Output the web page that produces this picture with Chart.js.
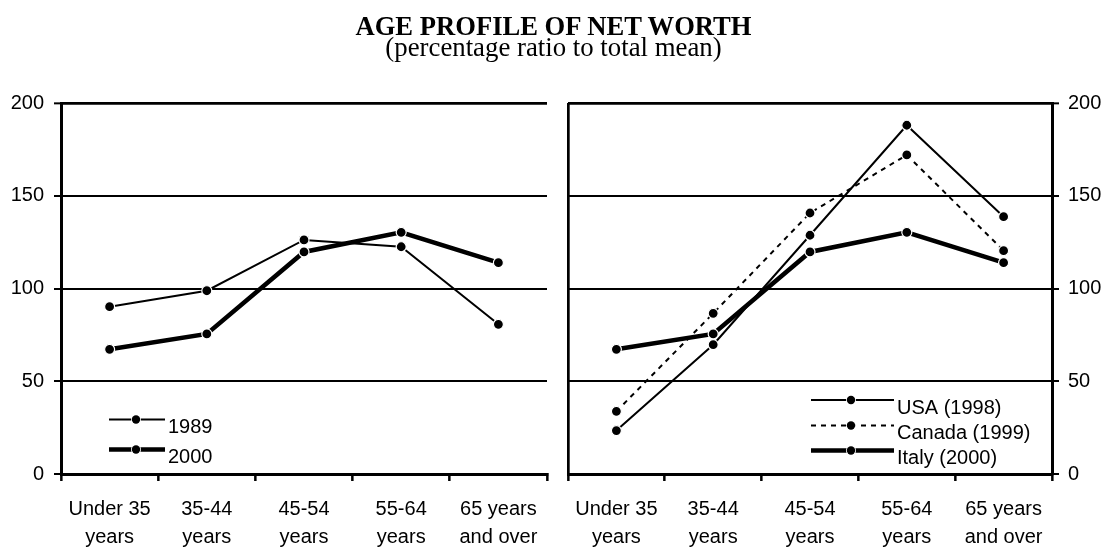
<!DOCTYPE html>
<html><head><meta charset="utf-8">
<script src="https://cdn.jsdelivr.net/npm/chart.js@4.4.0/dist/chart.umd.min.js"></script>
<style>
html,body{margin:0;padding:0;background:#fff;}
#wrap{position:relative;width:1107px;height:549px;overflow:hidden;background:#fff;}
.t1{position:absolute;left:0;width:1107px;text-align:center;font-family:"Liberation Serif","Times New Roman",serif;color:#000;white-space:nowrap;}
#title{top:11px;font-size:26.6px;line-height:30px;font-weight:bold;}
#sub{top:31.5px;font-size:26.8px;line-height:30px;}
#c1{position:absolute;left:0;top:0;}
#c2{position:absolute;left:555px;top:0;}
</style></head>
<body><div id="wrap">
<canvas id="c1" width="555" height="549"></canvas>
<canvas id="c2" width="552" height="549"></canvas>
<div class="t1" id="title">AGE PROFILE OF NET WORTH</div>
<div class="t1" id="sub">(percentage ratio to total mean)</div>
</div>
<script>
// ---- data ----
const categories = [["Under 35","years"],["35-44","years"],["45-54","years"],["55-64","years"],["65 years","and over"]];
const yMin = 0, yMax = 200, yStep = 50;
const leftLabels = ["1989", "2000"];
const italy1989 = [90.2, 98.8, 126.2, 122.5, 80.7];
const italy2000 = [67.2, 75.5, 119.7, 130.3, 113.9];
const rightLabels = ["USA (1998)", "Canada (1999)", "Italy (2000)"];
const usa1998 = [23.4, 69.7, 128.7, 188.0, 138.7];
const canada1999 = [33.8, 86.6, 140.7, 172.0, 120.4];
const italy2000r = [67.2, 75.5, 119.7, 130.3, 113.9];

const FONT = '"Liberation Sans", Arial, sans-serif';

// legend drawn inside the plot area
const insideLegend = {
  id: 'insideLegend',
  afterDatasetsDraw(chart, args, opts) {
    const ctx = chart.ctx;
    ctx.save();
    opts.rows.forEach((r, i) => {
      const ds = chart.data.datasets[i];
      const y = r;
      ctx.strokeStyle = '#000';
      ctx.lineWidth = ds.borderWidth;
      ctx.setLineDash(ds.borderDash || []);
      ctx.lineCap = 'butt';
      ctx.beginPath();
      ctx.moveTo(opts.x0, y);
      ctx.lineTo(opts.x1, y);
      ctx.stroke();
      ctx.setLineDash([]);
      ctx.beginPath();
      ctx.arc(opts.xm, y, 5, 0, Math.PI * 2);
      ctx.fillStyle = '#fff';
      ctx.fill();
      ctx.beginPath();
      ctx.arc(opts.xm, y, 4.2, 0, Math.PI * 2);
      ctx.fillStyle = '#000';
      ctx.fill();
      ctx.font = '20px ' + FONT;
      ctx.textAlign = 'left';
      ctx.textBaseline = 'alphabetic';
      ctx.fillStyle = '#000';
      ctx.fillText(ds.label, opts.x1 + 3, y + 13.5);
    });
    ctx.restore();
  }
};

function makeDataset(label, data, width, dash) {
  return {
    label, data,
    borderColor: '#000', borderWidth: width, borderDash: dash || [],
    pointRadius: 5, pointBorderWidth: 1.2, pointBackgroundColor: '#000', pointBorderColor: '#fff',
    pointHoverRadius: 5, tension: 0, fill: false
  };
}

function makeOptions(side, legendOpts) {
  const isLeft = side === 'left';
  return {
    responsive: false, animation: false, devicePixelRatio: 1,
    layout: { padding: isLeft ? { top: 103, right: 8, left: 0, bottom: 0 } : { top: 103, right: 0, left: 13, bottom: 0 } },
    plugins: { legend: { display: false }, tooltip: { enabled: false }, insideLegend: legendOpts },
    scales: {
      x: {
        type: 'category', offset: true,
        afterFit: s => { s.height = 75; },
        grid: {
          offset: true, drawOnChartArea: true, drawTicks: true, tickLength: 7,
          color: c => (isLeft ? c.index === 5 : c.index === 0) ? '#000' : 'rgba(0,0,0,0)',
          lineWidth: 2.7, tickColor: '#000', tickWidth: 2.5
        },
        border: { display: true, color: '#000', width: 3 },
        ticks: { color: '#000', font: { family: FONT, size: 20, lineHeight: 1.4 }, padding: 14, maxRotation: 0, autoSkip: false }
      },
      y: {
        position: isLeft ? 'left' : 'right', min: yMin, max: yMax,
        afterFit: s => { s.width = isLeft ? 61 : 55; },
        grid: {
          color: '#000', lineWidth: c => (c.tick && c.tick.value === yMax) ? 2.7 : 2,
          drawTicks: true, tickLength: 7, tickColor: '#000', tickWidth: 2
        },
        border: { display: true, color: '#000', width: 3 },
        ticks: { stepSize: yStep, color: '#000', font: { family: FONT, size: 20 }, padding: isLeft ? 10 : 9 }
      }
    }
  };
}

new Chart(document.getElementById('c1'), {
  type: 'line',
  data: { labels: categories, datasets: [
    makeDataset(leftLabels[0], italy1989, 2),
    makeDataset(leftLabels[1], italy2000, 4.5)
  ]},
  options: makeOptions('left', { rows: [419.5, 449.5], x0: 109, x1: 165, xm: 136 }),
  plugins: [insideLegend]
});

new Chart(document.getElementById('c2'), {
  type: 'line',
  data: { labels: categories, datasets: [
    makeDataset(rightLabels[0], usa1998, 2),
    makeDataset(rightLabels[1], canada1999, 2, [5, 5]),
    makeDataset(rightLabels[2], italy2000r, 4.5)
  ]},
  options: makeOptions('right', { rows: [400, 425.5, 450.5], x0: 811 - 555, x1: 894 - 555, xm: 851 - 555 }),
  plugins: [insideLegend]
});
</script>
</body></html>
